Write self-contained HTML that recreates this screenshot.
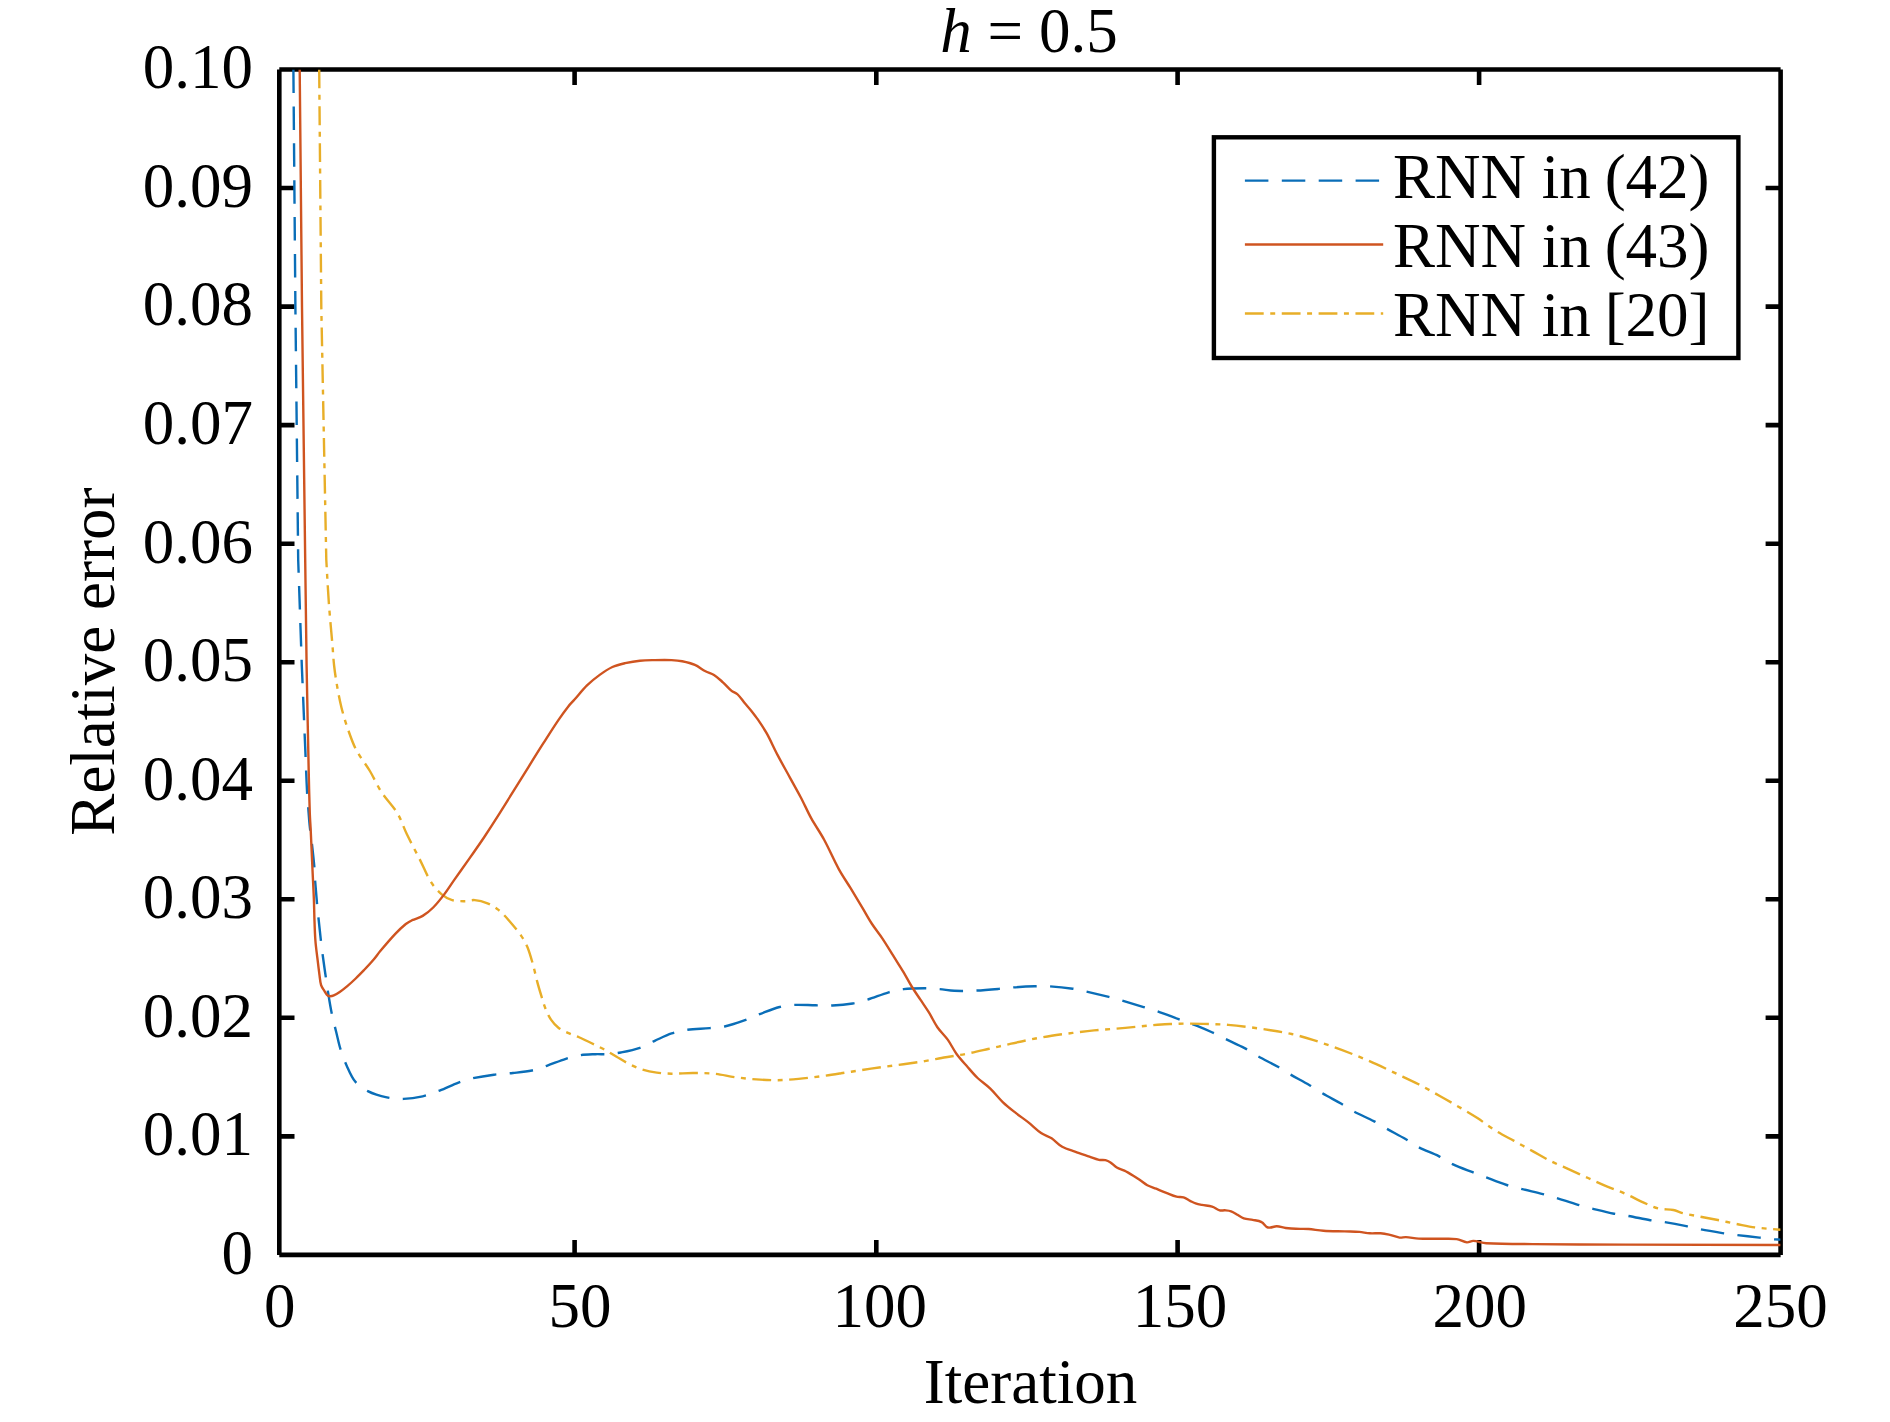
<!DOCTYPE html>
<html><head><meta charset="utf-8"><title>h = 0.5</title>
<style>
html,body{margin:0;padding:0;background:#fff;}
body{width:1890px;height:1422px;overflow:hidden;}
svg{display:block;}
text{font-family:"Liberation Serif",serif;font-size:63px;fill:#000;}
</style></head><body>
<svg width="1890" height="1422" viewBox="0 0 1890 1422">
<rect width="1890" height="1422" fill="#fff"/>
<defs><clipPath id="cp"><rect x="279.3" y="69.5" width="1501.3" height="1185.4"/></clipPath></defs>

<g stroke="#000" stroke-width="4.6" fill="none">
<path d="M279.3,69.5 H1780.6 M279.3,1254.9 H1780.6 M279.3,69.5 V1254.9 M1780.6,69.5 V1254.9"/>
<path d="M574.6,1254.9 V1239.9 M574.6,69.5 V84.9"/>
<path d="M876.3,1254.9 V1239.9 M876.3,69.5 V84.9"/>
<path d="M1177.6,1254.9 V1239.9 M1177.6,69.5 V84.9"/>
<path d="M1479.1,1254.9 V1239.9 M1479.1,69.5 V84.9"/>
<path d="M279.3,1136.4 H294.5 M1780.6,1136.4 H1765.6"/>
<path d="M279.3,1017.8 H294.5 M1780.6,1017.8 H1765.6"/>
<path d="M279.3,899.3 H294.5 M1780.6,899.3 H1765.6"/>
<path d="M279.3,780.7 H294.5 M1780.6,780.7 H1765.6"/>
<path d="M279.3,662.2 H294.5 M1780.6,662.2 H1765.6"/>
<path d="M279.3,543.7 H294.5 M1780.6,543.7 H1765.6"/>
<path d="M279.3,425.1 H294.5 M1780.6,425.1 H1765.6"/>
<path d="M279.3,306.6 H294.5 M1780.6,306.6 H1765.6"/>
<path d="M279.3,188.0 H294.5 M1780.6,188.0 H1765.6"/>
</g>
<g clip-path="url(#cp)" fill="none" stroke-linejoin="round">
<path d="M293.4,69.5L295.4,307.0L298.2,560.0L301.8,665.5C303.0,693.6 304.1,721.8 305.3,749.9C305.6,756.6 305.8,763.3 306.1,770.0C306.4,777.7 306.7,785.3 307.1,793.0C307.4,797.8 307.8,802.5 308.2,807.3C308.7,813.2 309.0,819.1 309.6,825.0C310.2,830.9 311.1,836.8 311.8,842.7C312.7,850.6 313.6,858.5 314.3,866.4C314.7,871.1 314.8,875.9 315.1,880.6C315.7,888.2 316.3,895.8 317.0,903.4C317.4,908.0 317.9,912.7 318.4,917.3C319.2,924.8 320.0,932.2 320.8,939.7C321.4,944.6 321.9,949.5 322.6,954.4C323.6,961.7 324.6,969.1 325.7,976.4C326.4,981.2 327.0,985.9 327.8,990.7C329.0,998.0 330.1,1005.4 331.6,1012.7C332.9,1019.2 334.6,1025.6 336.2,1032.0C337.6,1037.6 338.7,1043.4 340.4,1048.9C342.2,1054.6 344.2,1060.3 346.7,1065.7C349.2,1071.2 351.4,1077.0 355.2,1081.6C358.6,1085.6 363.1,1088.7 367.8,1091.1C373.8,1094.1 380.3,1096.0 386.8,1097.4C392.3,1098.6 398.0,1099.1 403.7,1098.9C410.1,1098.7 416.5,1097.7 422.7,1096.3C428.5,1095.0 434.0,1092.7 439.6,1090.6C446.0,1088.2 452.1,1085.0 458.5,1082.6C463.1,1080.9 467.9,1079.4 472.7,1078.3C479.7,1076.7 486.8,1075.6 493.9,1074.7C500.2,1073.9 506.6,1073.7 512.9,1073.0C519.3,1072.3 525.7,1071.8 532.0,1070.5C537.1,1069.4 541.9,1067.5 546.8,1065.8C553.2,1063.6 559.4,1060.8 565.8,1058.8C570.6,1057.3 575.6,1056.0 580.6,1055.2C585.5,1054.4 590.5,1054.4 595.4,1054.2C599.6,1054.0 603.9,1054.5 608.1,1054.2C612.4,1053.9 616.6,1053.3 620.8,1052.5C627.2,1051.2 633.7,1049.9 639.9,1047.8C645.1,1046.0 649.7,1043.1 654.7,1040.8C660.3,1038.3 665.8,1035.4 671.6,1033.4C676.8,1031.7 682.1,1030.5 687.5,1029.8C694.9,1028.8 702.3,1028.8 709.7,1028.1C714.7,1027.7 719.7,1027.6 724.6,1026.5C731.1,1025.1 737.4,1022.9 743.6,1020.7C749.3,1018.7 754.8,1016.0 760.5,1013.8C766.8,1011.4 773.1,1008.7 779.6,1007.0C784.4,1005.7 789.4,1005.1 794.4,1004.9C801.5,1004.6 808.5,1005.2 815.6,1005.3C821.2,1005.4 826.9,1005.8 832.5,1005.5C839.3,1005.2 846.0,1004.6 852.7,1003.5C857.7,1002.7 862.6,1001.2 867.5,999.7C874.6,997.5 881.5,994.4 888.7,992.3C893.5,990.9 898.5,989.7 903.5,989.1C910.5,988.3 917.6,988.3 924.7,988.3C929.6,988.3 934.6,988.7 939.5,989.1C944.4,989.5 949.3,990.6 954.3,990.8C961.3,991.1 968.4,990.9 975.4,990.6C983.2,990.3 990.9,989.6 998.7,988.9C1003.6,988.5 1008.6,987.8 1013.5,987.4C1020.6,986.9 1027.6,986.5 1034.7,986.3C1039.6,986.1 1044.6,986.0 1049.5,986.3C1057.3,986.8 1065.1,987.6 1072.8,988.7C1077.5,989.4 1082.0,990.6 1086.6,991.6C1094.0,993.3 1101.4,995.1 1108.8,996.9C1113.1,998.0 1117.3,999.1 1121.5,1000.3C1128.9,1002.5 1136.3,1004.8 1143.7,1007.1C1148.3,1008.5 1153.0,1009.7 1157.5,1011.3C1164.6,1013.8 1171.6,1016.6 1178.6,1019.2C1185.0,1021.5 1191.4,1023.6 1197.7,1026.1C1202.7,1028.1 1207.6,1030.2 1212.5,1032.5C1216.8,1034.5 1221.0,1036.7 1225.2,1038.8C1231.8,1042.0 1238.6,1044.9 1245.1,1048.4C1249.5,1050.7 1253.5,1053.8 1257.8,1056.2C1264.4,1059.9 1271.3,1063.1 1277.9,1066.8C1282.2,1069.2 1286.3,1072.1 1290.6,1074.6C1296.9,1078.2 1303.3,1081.5 1309.6,1085.2C1313.9,1087.7 1318.0,1090.7 1322.3,1093.2C1328.6,1096.9 1335.1,1100.2 1341.4,1103.8C1345.7,1106.3 1349.7,1109.3 1354.1,1111.6C1360.7,1115.1 1367.6,1117.9 1374.2,1121.4C1378.5,1123.7 1382.6,1126.4 1386.9,1128.8C1393.2,1132.3 1399.7,1135.6 1405.9,1139.2C1410.2,1141.7 1414.2,1144.9 1418.6,1147.2C1425.1,1150.6 1432.1,1152.8 1438.7,1156.1C1443.5,1158.5 1447.7,1161.8 1452.5,1164.1C1459.0,1167.2 1465.9,1169.6 1472.6,1172.2C1477.1,1174.0 1481.7,1175.7 1486.3,1177.4C1493.1,1180.0 1499.8,1182.7 1506.7,1185.0C1511.3,1186.5 1516.0,1187.5 1520.6,1188.7C1528.0,1190.6 1535.4,1192.2 1542.8,1194.1C1547.5,1195.3 1552.1,1196.6 1556.7,1198.0C1563.8,1200.2 1570.9,1202.7 1578.0,1204.8C1582.6,1206.2 1587.2,1207.4 1591.9,1208.5C1599.3,1210.3 1606.7,1212.2 1614.1,1213.7C1618.7,1214.6 1623.4,1215.1 1628.0,1215.9C1635.4,1217.2 1642.8,1218.9 1650.2,1220.2C1654.8,1221.0 1659.5,1221.2 1664.1,1222.0C1671.5,1223.2 1678.9,1224.6 1686.3,1226.1C1691.0,1227.0 1695.5,1228.4 1700.2,1229.3C1707.6,1230.7 1715.0,1231.9 1722.4,1233.1C1727.0,1233.8 1731.7,1234.4 1736.3,1235.0C1744.0,1235.9 1751.7,1236.7 1759.4,1237.6C1764.0,1238.1 1768.7,1238.9 1773.3,1239.3C1775.7,1239.5 1778.2,1239.5 1780.6,1239.6" stroke="#0A6EB8" stroke-width="2.4" stroke-dasharray="23.5 13.4"/>
<path d="M319.2,69.5L321.3,307.0L326.3,560.0C327.1,574.1 327.8,588.1 328.8,602.2C329.8,616.3 331.2,630.3 332.4,644.4C333.0,651.4 333.3,658.5 334.1,665.5C334.9,672.6 336.0,679.6 337.2,686.6C338.4,693.7 339.8,700.7 341.5,707.7C343.3,714.8 345.4,721.9 347.8,728.8C350.3,735.9 352.7,743.2 356.2,749.9C360.1,757.3 365.6,763.8 369.9,771.0C374.0,777.9 377.1,785.4 381.5,792.1C386.3,799.5 392.9,805.7 397.4,813.2C401.4,819.8 403.5,827.4 406.9,834.3C411.3,843.3 416.1,852.1 420.6,861.1C424.1,868.1 426.9,875.6 431.1,882.2C434.0,886.8 437.6,890.9 441.7,894.4C444.7,897.0 448.4,899.0 452.2,900.1C456.3,901.3 460.7,901.2 464.9,901.2C468.2,901.2 471.5,899.8 474.8,900.1C479.1,900.5 483.5,901.7 487.5,903.3C491.3,904.9 494.9,907.0 498.1,909.6C502.0,912.7 505.4,916.4 508.7,920.2C513.2,925.3 517.5,930.5 521.4,936.1C523.9,939.7 526.0,943.6 527.7,947.7C529.9,953.2 531.4,959.0 533.0,964.7C534.6,970.3 535.7,976.0 537.2,981.6C538.5,986.6 540.0,991.5 541.5,996.4C542.8,1000.7 544.0,1005.0 545.7,1009.1C547.2,1012.8 548.8,1016.4 551.0,1019.7C553.0,1022.7 555.5,1025.5 558.4,1027.7C561.2,1029.9 564.6,1031.3 567.9,1032.8C571.3,1034.4 575.0,1035.5 578.5,1037.0C582.8,1038.9 587.0,1041.0 591.2,1043.0C595.5,1045.1 599.7,1047.1 603.9,1049.3C608.2,1051.6 612.4,1054.2 616.6,1056.7C620.8,1059.2 624.9,1061.9 629.3,1064.1C633.4,1066.2 637.6,1068.0 642.0,1069.4C646.8,1070.9 651.8,1071.9 656.8,1072.6C661.7,1073.3 666.7,1073.6 671.6,1073.7C678.7,1073.8 685.7,1073.0 692.8,1073.0C699.9,1073.0 707.0,1073.0 714.0,1073.7C721.1,1074.4 728.0,1076.2 735.1,1077.2C742.1,1078.1 749.2,1078.9 756.3,1079.4C763.4,1079.9 770.4,1080.3 777.5,1080.2C784.5,1080.1 791.6,1079.5 798.6,1078.9C805.7,1078.3 812.7,1077.3 819.8,1076.4C826.9,1075.5 833.9,1074.4 841.0,1073.3C847.7,1072.3 854.5,1071.2 861.2,1070.2C868.2,1069.1 875.3,1068.0 882.3,1067.0C889.4,1066.0 896.4,1065.2 903.5,1064.2C910.6,1063.2 917.7,1062.3 924.7,1061.1C931.8,1059.9 938.8,1058.4 945.8,1057.2C952.9,1056.0 960.0,1055.1 967.0,1053.7C974.1,1052.3 981.1,1050.6 988.1,1049.0C995.2,1047.4 1002.2,1045.7 1009.3,1044.1C1016.4,1042.5 1023.4,1040.9 1030.5,1039.5C1037.5,1038.1 1044.5,1036.8 1051.6,1035.7C1058.6,1034.6 1065.7,1033.8 1072.8,1032.9C1079.9,1032.0 1086.9,1031.1 1094.0,1030.4C1101.0,1029.7 1108.1,1029.3 1115.1,1028.7C1122.2,1028.1 1129.2,1027.5 1136.3,1026.8C1143.4,1026.1 1150.4,1025.3 1157.5,1024.7C1161.7,1024.4 1166.0,1024.1 1170.2,1024.0C1176.5,1023.8 1182.9,1023.6 1189.2,1023.6C1196.3,1023.6 1203.3,1023.8 1210.4,1024.0C1216.3,1024.2 1222.2,1024.4 1228.1,1024.9C1235.2,1025.5 1242.2,1026.3 1249.3,1027.2C1256.4,1028.1 1263.5,1029.1 1270.5,1030.2C1277.6,1031.3 1284.6,1032.4 1291.6,1034.0C1298.7,1035.6 1305.8,1037.7 1312.8,1039.9C1319.9,1042.1 1327.0,1044.6 1334.0,1047.1C1341.1,1049.6 1348.1,1052.3 1355.1,1055.1C1362.2,1058.0 1369.3,1061.0 1376.3,1064.2C1383.4,1067.4 1390.4,1070.8 1397.5,1074.2C1404.5,1077.5 1411.7,1080.7 1418.6,1084.3C1425.8,1088.0 1432.8,1092.0 1439.8,1096.0C1446.1,1099.5 1452.3,1103.1 1458.5,1106.7C1464.7,1110.3 1471.0,1113.9 1477.0,1117.8C1483.3,1121.9 1489.2,1126.7 1495.6,1130.7C1501.6,1134.4 1507.9,1137.5 1514.1,1140.9C1520.3,1144.3 1526.4,1147.7 1532.6,1151.1C1538.8,1154.5 1544.8,1158.2 1551.1,1161.3C1557.1,1164.3 1563.4,1166.8 1569.6,1169.6C1575.8,1172.4 1581.9,1175.2 1588.1,1178.0C1594.3,1180.8 1600.4,1183.7 1606.7,1186.3C1612.8,1188.9 1619.1,1191.0 1625.2,1193.7C1631.5,1196.5 1637.4,1199.8 1643.7,1202.6C1648.6,1204.8 1653.3,1207.2 1658.5,1208.5C1663.3,1209.7 1668.4,1209.1 1673.3,1210.0C1676.5,1210.6 1679.4,1212.3 1682.6,1213.1C1688.1,1214.5 1693.7,1215.4 1699.3,1216.5C1705.5,1217.7 1711.6,1218.8 1717.8,1220.0C1724.0,1221.2 1730.1,1222.7 1736.3,1223.9C1742.5,1225.1 1748.6,1226.6 1754.8,1227.4C1763.4,1228.5 1772.0,1229.0 1780.6,1229.8" stroke="#E8AE28" stroke-width="2.4" stroke-dasharray="18.8 6.55 4.95 6.55"/>
<path d="M299.7,69.5L302.0,307.0L305.2,560.0L306.6,665.5C307.3,700.7 307.9,735.8 308.7,771.0C309.0,785.1 309.3,799.1 309.8,813.2C310.0,818.8 310.4,824.4 310.7,830.0C311.4,844.8 312.0,859.5 312.7,874.3C313.1,882.9 313.6,891.4 313.9,900.0C314.2,907.0 314.2,914.1 314.5,921.1C314.7,927.6 314.9,934.0 315.4,940.5C315.8,946.2 316.6,951.8 317.3,957.4C318.0,963.0 318.6,968.7 319.4,974.3C319.9,977.9 320.0,981.7 321.1,985.2C321.8,987.4 323.3,989.2 324.5,991.1C325.3,992.4 325.9,993.8 327.0,994.9C327.7,995.6 328.6,996.1 329.5,996.2C331.0,996.3 332.5,996.0 333.8,995.4C335.9,994.5 337.8,993.3 339.7,992.0C342.3,990.2 344.8,988.2 347.3,986.1C350.2,983.7 353.0,981.1 355.7,978.5C358.6,975.7 361.3,972.9 364.1,970.0C367.0,967.0 369.9,964.0 372.6,960.8C375.4,957.6 377.8,954.0 380.5,950.8C385.3,945.1 390.2,939.3 395.3,933.9C398.6,930.4 402.1,927.0 405.8,924.0C407.7,922.5 409.9,921.3 412.1,920.2C415.5,918.6 419.4,917.9 422.7,915.9C426.5,913.6 430.0,910.7 433.2,907.5C437.1,903.6 440.5,899.3 443.8,894.9C447.7,889.8 451.1,884.3 454.8,879.1C459.7,872.2 464.6,865.3 469.5,858.4C474.5,851.3 479.5,844.2 484.3,837.0C489.3,829.4 494.2,821.8 499.1,814.1C504.1,806.2 509.0,798.3 513.9,790.4C518.8,782.5 523.7,774.7 528.6,766.8C533.5,758.9 538.4,751.0 543.4,743.2C548.3,735.5 553.1,727.8 558.2,720.3C561.5,715.5 564.9,710.8 568.5,706.2C570.3,703.9 572.4,702.0 574.3,699.8C578.6,695.0 582.4,689.9 587.0,685.4C590.9,681.6 595.3,678.1 599.7,674.9C603.7,672.0 607.9,669.1 612.4,667.0C616.4,665.2 620.8,664.2 625.1,663.2C630.0,662.1 634.9,661.2 639.9,660.7C644.8,660.2 649.8,660.2 654.7,660.1C660.3,660.0 666.0,659.9 671.6,660.1C675.2,660.3 678.7,660.6 682.2,661.3C686.5,662.2 690.9,663.2 694.9,664.9C698.7,666.5 701.8,669.4 705.5,671.3C708.2,672.7 711.4,673.3 714.0,674.9C717.3,677.0 720.0,679.7 722.9,682.3C725.8,684.9 728.3,688.1 731.3,690.6C733.2,692.2 735.9,692.8 737.7,694.5C740.5,697.2 742.6,700.5 745.1,703.5C747.2,706.0 749.4,708.4 751.4,710.9C753.6,713.7 755.8,716.5 757.8,719.4C761.0,724.1 764.2,728.8 766.9,733.7C770.7,740.6 773.8,747.9 777.5,754.9C781.6,762.7 786.0,770.4 790.2,778.1C793.7,784.5 797.3,790.8 800.7,797.2C804.4,804.2 807.5,811.5 811.3,818.4C815.3,825.6 820.1,832.3 824.0,839.5C829.3,849.2 833.5,859.4 838.8,869.1C842.4,875.7 846.7,881.8 850.6,888.2C854.5,894.6 858.4,901.1 862.3,907.6C865.5,912.9 868.3,918.3 871.7,923.5C875.0,928.6 878.9,933.3 882.3,938.3C886.0,943.8 889.4,949.6 892.9,955.2C896.4,960.9 900.1,966.5 903.5,972.2C906.4,977.1 909.0,982.2 912.0,987.0C914.7,991.3 917.6,995.5 920.4,999.7C923.2,1003.9 926.2,1008.1 928.9,1012.4C931.9,1017.2 934.2,1022.5 937.4,1027.2C940.5,1031.7 944.7,1035.4 947.9,1039.9C951.0,1044.3 953.2,1049.3 956.4,1053.7C959.6,1058.1 963.4,1062.2 967.0,1066.3C970.5,1070.3 973.8,1074.4 977.6,1078.0C981.6,1081.8 986.3,1084.8 990.3,1088.6C994.8,1092.9 998.5,1098.0 1003.0,1102.3C1007.0,1106.1 1011.4,1109.5 1015.7,1112.9C1019.8,1116.2 1024.3,1119.1 1028.4,1122.4C1032.7,1125.8 1036.6,1129.9 1041.1,1133.0C1044.3,1135.2 1048.3,1136.2 1051.6,1138.3C1055.4,1140.8 1058.3,1144.6 1062.2,1146.8C1066.1,1149.0 1070.6,1150.1 1074.9,1151.6C1079.7,1153.4 1084.6,1155.0 1089.5,1156.7C1092.7,1157.8 1095.7,1159.1 1099.0,1159.8C1101.1,1160.3 1103.3,1159.7 1105.4,1160.2C1107.2,1160.6 1108.9,1161.4 1110.5,1162.4C1112.8,1163.9 1114.5,1166.1 1116.8,1167.5C1119.2,1168.9 1121.9,1169.4 1124.4,1170.6C1127.5,1172.1 1130.4,1173.9 1133.3,1175.7C1135.9,1177.3 1138.5,1179.1 1141.0,1180.8C1143.1,1182.2 1145.0,1184.0 1147.3,1185.2C1150.1,1186.7 1153.2,1187.5 1156.2,1188.7C1159.6,1190.1 1162.9,1191.6 1166.3,1192.9C1169.7,1194.2 1173.0,1195.8 1176.5,1196.7C1178.8,1197.3 1181.3,1196.6 1183.5,1197.3C1186.0,1198.1 1188.1,1199.9 1190.5,1201.1C1192.2,1201.9 1193.8,1202.8 1195.6,1203.4C1197.6,1204.1 1199.8,1204.5 1201.9,1204.9C1205.3,1205.6 1208.8,1205.6 1212.1,1206.6C1214.8,1207.4 1217.0,1209.6 1219.7,1210.4C1221.3,1210.9 1223.1,1210.2 1224.8,1210.3C1226.9,1210.5 1229.1,1210.6 1231.1,1211.3C1233.4,1212.1 1235.4,1213.6 1237.5,1214.8C1239.6,1216.0 1241.5,1217.5 1243.8,1218.3C1246.7,1219.3 1249.8,1219.3 1252.7,1219.9C1255.7,1220.5 1258.9,1220.7 1261.6,1222.1C1264.1,1223.3 1265.2,1226.8 1267.9,1227.5C1270.8,1228.3 1273.8,1226.2 1276.8,1226.3C1279.8,1226.4 1282.7,1227.6 1285.7,1228.0C1289.1,1228.4 1292.5,1228.7 1295.9,1228.8C1300.1,1229.0 1304.4,1228.7 1308.6,1229.0C1313.6,1229.4 1318.4,1230.5 1323.4,1230.8C1330.5,1231.3 1337.5,1231.2 1344.6,1231.4C1349.5,1231.6 1354.5,1231.5 1359.4,1231.9C1362.9,1232.2 1366.4,1233.1 1369.9,1233.3C1373.4,1233.5 1377.0,1233.1 1380.5,1233.3C1383.4,1233.5 1386.2,1234.0 1389.0,1234.6C1392.6,1235.4 1396.0,1237.1 1399.6,1237.6C1401.7,1237.9 1403.8,1237.0 1405.9,1237.1C1410.2,1237.3 1414.3,1238.4 1418.6,1238.6C1425.7,1239.0 1432.7,1238.7 1439.8,1238.8C1445.4,1238.9 1451.1,1238.4 1456.7,1239.1C1460.2,1239.6 1463.3,1242.0 1466.9,1242.4C1469.1,1242.6 1471.1,1240.8 1473.3,1240.9C1477.7,1241.1 1481.9,1243.1 1486.3,1243.3C1501.7,1244.1 1517.2,1244.0 1532.6,1244.1C1563.5,1244.4 1594.3,1244.5 1625.2,1244.6C1677.0,1244.8 1728.8,1244.9 1780.6,1245.0" stroke="#CF5420" stroke-width="2.4"/>
</g>
<text x="253" y="1273.7" text-anchor="end">0</text>
<text x="253" y="1155.2" text-anchor="end">0.01</text>
<text x="253" y="1036.6" text-anchor="end">0.02</text>
<text x="253" y="918.1" text-anchor="end">0.03</text>
<text x="253" y="799.5" text-anchor="end">0.04</text>
<text x="253" y="681.0" text-anchor="end">0.05</text>
<text x="253" y="562.5" text-anchor="end">0.06</text>
<text x="253" y="443.9" text-anchor="end">0.07</text>
<text x="253" y="325.4" text-anchor="end">0.08</text>
<text x="253" y="206.8" text-anchor="end">0.09</text>
<text x="253" y="88.3" text-anchor="end">0.10</text>
<text x="279.8" y="1327" text-anchor="middle">0</text>
<text x="580.1" y="1327" text-anchor="middle">50</text>
<text x="879.7" y="1327" text-anchor="middle">100</text>
<text x="1180.0" y="1327" text-anchor="middle">150</text>
<text x="1479.8" y="1327" text-anchor="middle">200</text>
<text x="1780.5" y="1327" text-anchor="middle">250</text>
<text x="1030.5" y="1402.6" text-anchor="middle">Iteration</text>
<text transform="translate(113.5,661.6) rotate(-90)" text-anchor="middle">Relative error</text>
<text x="1029" y="52" text-anchor="middle"><tspan font-style="italic">h</tspan> = 0.5</text>
<rect x="1213.9" y="137.3" width="524.5" height="220.7" fill="#fff" stroke="#000" stroke-width="4.4"/>
<g fill="none" stroke-width="2.4">
<path d="M1244.9,180.6 H1383.2" stroke="#0A6EB8" stroke-dasharray="23.5 13.4"/>
<path d="M1244.9,244.5 H1383.2" stroke="#CF5420"/>
<path d="M1244.9,313.5 H1383.2" stroke="#E8AE28" stroke-dasharray="18.8 6.55 4.95 6.55"/>
</g>
<text x="1392.9" y="197.5">RNN in <tspan dx="-1.8">(42)</tspan></text>
<text x="1392.9" y="266.7">RNN in <tspan dx="-1.8">(43)</tspan></text>
<text x="1392.9" y="335.6">RNN in <tspan dx="-1.8">[20]</tspan></text>
</svg></body></html>
